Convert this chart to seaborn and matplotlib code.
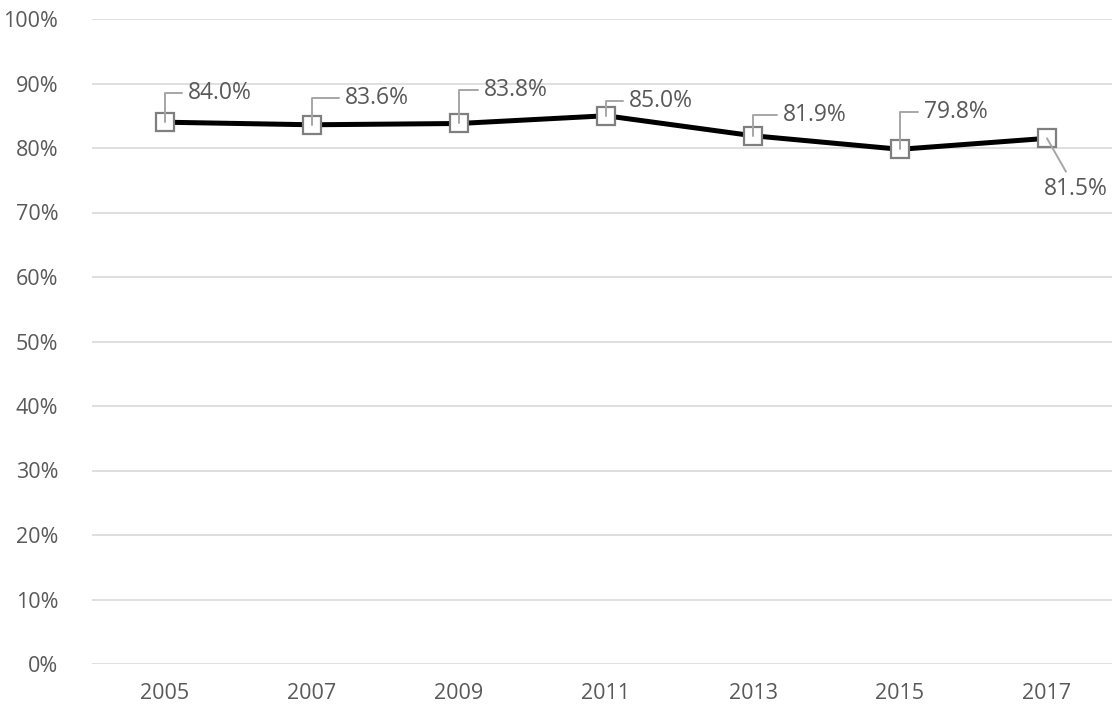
import pandas as pd
import matplotlib.pyplot as plt
import seaborn as sns
from matplotlib.ticker import PercentFormatter

# Values
years = ["2005", "2007", "2009", "2011", "2013", "2015", "2017"]
rates = [84.0, 83.6, 83.8, 85.0, 81.9, 79.8, 81.5]
labels = ["84.0%", "83.6%", "83.8%", "85.0%", "81.9%", "79.8%", "81.5%"]
# label offsets in pixels (dx, dy) from each marker
label_offsets = [(23, 29), (33, 27), (25, 33), (23, 15), (30, 21), (24, 37), (29, -51)]

df = pd.DataFrame({"year": years, "rate": rates})

sns.set_style("white")
plt.rcParams["font.family"] = ["Open Sans", "DejaVu Sans"]

grey = "#595959"
fig = plt.figure(figsize=(11.12, 7.15), dpi=100)
ax = fig.add_axes([91.5 / 1112, 51 / 715, 1029 / 1112, 645 / 715])

sns.lineplot(data=df, x="year", y="rate", ax=ax, color="black", linewidth=3.6,
             marker="s", markersize=13, markerfacecolor="white",
             markeredgecolor="#7f7f7f", markeredgewidth=1.6, sort=False)

for i, (lab, (dx, dy)) in enumerate(zip(labels, label_offsets)):
    if dy > 0:
        ax.annotate(lab, xy=(i, rates[i]), xytext=(dx, dy), textcoords="offset pixels",
                    ha="left", va="center", fontsize=16.5, color=grey,
                    arrowprops=dict(arrowstyle="-", color="#a6a6a6", lw=1.4,
                                    connectionstyle="angle,angleA=180,angleB=90,rad=0",
                                    shrinkA=2, shrinkB=0))
    else:
        ax.annotate(lab, xy=(i, rates[i]), xytext=(dx, dy), textcoords="offset pixels",
                    ha="center", va="center", fontsize=16.5, color=grey,
                    arrowprops=dict(arrowstyle="-", color="#a6a6a6", lw=1.4,
                                    shrinkA=2, shrinkB=0))

ax.set_ylim(0, 100)
ax.set_xlim(-0.5, 6.5)
ax.set_yticks(range(0, 101, 10))
ax.yaxis.set_major_formatter(PercentFormatter(decimals=0))
ax.yaxis.grid(True, color="#d9d9d9", linewidth=1.2)
ax.set_axisbelow(True)
for s in ax.spines.values():
    s.set_visible(False)
ax.tick_params(axis="both", labelsize=15.5, colors=grey, length=0)
ax.tick_params(axis="y", pad=24)
ax.tick_params(axis="x", pad=14)
ax.set_xlabel("")
ax.set_ylabel("")

fig.savefig("out.png", dpi=100)
